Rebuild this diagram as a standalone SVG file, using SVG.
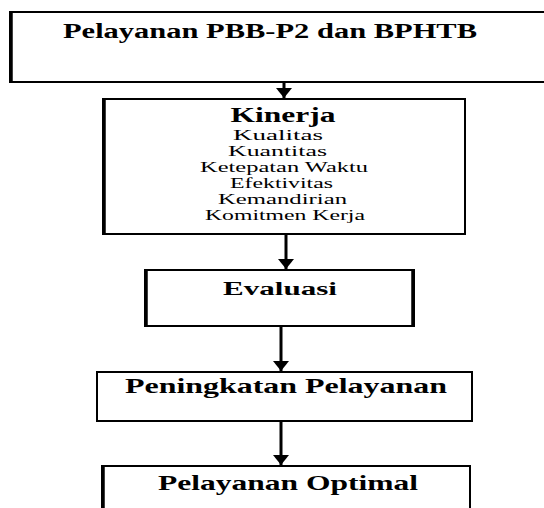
<svg xmlns="http://www.w3.org/2000/svg" width="544" height="508" viewBox="0 0 544 508">
<style>
.box{fill:#fff;stroke:#000;stroke-width:2}
.side{stroke:#000;stroke-width:3.5;fill:none}
.b{font-family:"Liberation Serif","Times New Roman",serif;font-weight:bold;text-anchor:middle;fill:#000}
.r{font-family:"Liberation Serif","Times New Roman",serif;font-size:15px;text-anchor:middle;fill:#000}
.sh{stroke:#000;stroke-width:3;fill:none}
</style>
<defs>
<marker id="ah" markerUnits="userSpaceOnUse" markerWidth="12" markerHeight="16" refX="10" refY="8" orient="auto">
<path d="M0,0 L10,8 L0,16 Z" fill="#000"/>
</marker>
</defs>
<rect width="544" height="508" fill="#fff"/>
<g id="n1">
<rect class="box" x="10" y="12" width="540" height="70"/>
<path class="side" d="M11,12 V82"/>
<text class="b" x="270" y="38" font-size="20" textLength="414" lengthAdjust="spacingAndGlyphs">Pelayanan PBB-P2 dan BPHTB</text>
</g>
<g id="n2">
<rect class="box" x="103" y="99" width="362" height="135"/>
<path class="side" d="M104,99 V234"/>
<text class="b" x="283" y="122" font-size="20" textLength="105" lengthAdjust="spacingAndGlyphs">Kinerja</text>
<text class="r" x="278" y="140" textLength="90" lengthAdjust="spacingAndGlyphs">Kualitas</text>
<text class="r" x="277.5" y="156" textLength="99" lengthAdjust="spacingAndGlyphs">Kuantitas</text>
<text class="r" x="284" y="172" textLength="168" lengthAdjust="spacingAndGlyphs">Ketepatan Waktu</text>
<text class="r" x="281.5" y="188" textLength="103" lengthAdjust="spacingAndGlyphs">Efektivitas</text>
<text class="r" x="282.5" y="204" textLength="129" lengthAdjust="spacingAndGlyphs">Kemandirian</text>
<text class="r" x="285" y="220" textLength="160" lengthAdjust="spacingAndGlyphs">Komitmen Kerja</text>
</g>
<g id="n3">
<rect class="box" x="145" y="270" width="269" height="56"/>
<path class="side" d="M146,270 V326 M413,270 V326"/>
<text class="b" x="280" y="295" font-size="18" textLength="114" lengthAdjust="spacingAndGlyphs">Evaluasi</text>
</g>
<g id="n4">
<rect class="box" x="97" y="372" width="375" height="49"/>
<text class="b" x="286" y="393" font-size="21" textLength="322" lengthAdjust="spacingAndGlyphs">Peningkatan Pelayanan</text>
</g>
<g id="n5">
<rect class="box" x="102" y="466" width="368" height="50"/>
<path class="side" d="M103,466 V510"/>
<text class="b" x="288" y="490" font-size="21" textLength="260" lengthAdjust="spacingAndGlyphs">Pelayanan Optimal</text>
</g>
<g id="connectors">
<path class="sh" d="M284,83 V98" marker-end="url(#ah)"/>
<path class="sh" d="M286,235 V269" marker-end="url(#ah)"/>
<path class="sh" d="M281,327 V371" marker-end="url(#ah)"/>
<path class="sh" d="M281,422 V465" marker-end="url(#ah)"/>
</g>
</svg>
